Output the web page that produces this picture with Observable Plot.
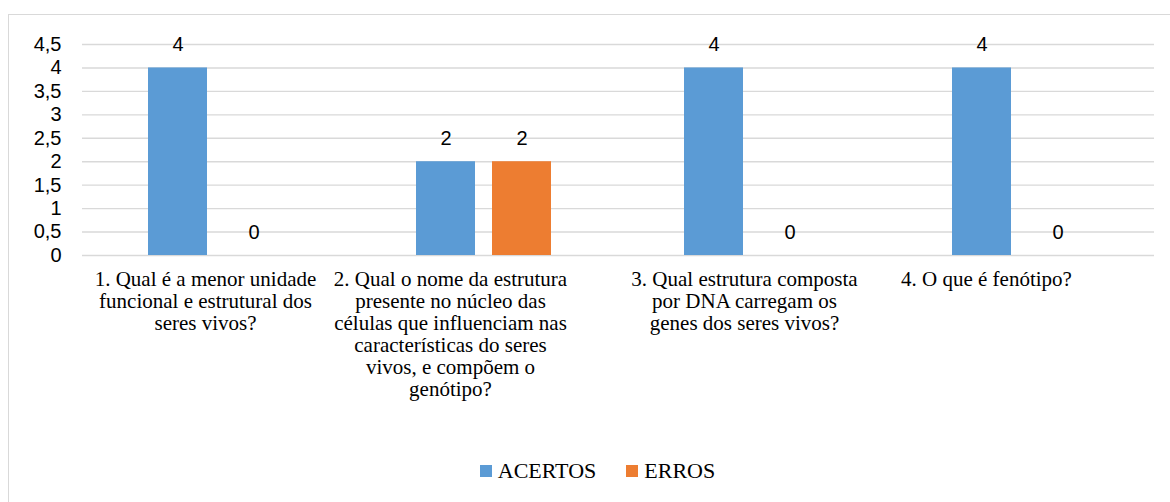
<!DOCTYPE html>
<html>
<head>
<meta charset="utf-8">
<script src="https://cdn.jsdelivr.net/npm/d3@7"></script>
<script src="https://cdn.jsdelivr.net/npm/@observablehq/plot@0.6"></script>
<style>
  html, body { margin: 0; padding: 0; background: #fff; overflow: hidden; width: 1170px; height: 502px; }
  #wrap { position: relative; width: 1170px; height: 502px; }
  #frame { position: absolute; left: 8px; top: 14px; width: 1200px; height: 600px; border: 1.5px solid #d9d9d9; box-sizing: border-box; pointer-events: none; }
  #chart { position: absolute; left: 0; top: 0; }
  #legend { position: absolute; left: 25px; width: 1145px; top: 458px; display: flex; justify-content: center; align-items: center; font-family: "Liberation Serif", "Times New Roman", serif; font-size: 22px; color: #000; }
  .item { display: flex; align-items: center; margin: 0 15px; }
  .sw { width: 12px; height: 12px; margin-right: 6px; }
  .qlabel text { font-family: "Liberation Serif", "Times New Roman", serif !important; }
</style>
</head>
<body>
<div id="wrap">
  <div id="frame"></div>
  <div id="chart"></div>
  <div id="legend"></div>
</div>
<script>
// ---- data ----
const questions = [
  "1. Qual é a menor unidade funcional e estrutural dos seres vivos?",
  "2. Qual o nome da estrutura presente no núcleo das células que influenciam nas características do seres vivos, e compõem o genótipo?",
  "3. Qual estrutura composta por DNA carregam os genes dos seres vivos?",
  "4. O que é fenótipo?"
];
const questionLabels = [
  "1. Qual é a menor unidade\nfuncional e estrutural dos\nseres vivos?",
  "2. Qual o nome da estrutura\npresente no núcleo das\ncélulas que influenciam nas\ncaracterísticas do seres\nvivos, e compõem o\ngenótipo?",
  "3. Qual estrutura composta\npor DNA carregam os\ngenes dos seres vivos?",
  "4. O que é fenótipo?"
];
const series = ["ACERTOS", "ERROS"];
const acertos = [4, 2, 4, 4];
const erros = [0, 2, 0, 0];
const yTicks = [0, 0.5, 1, 1.5, 2, 2.5, 3, 3.5, 4, 4.5];
const colors = ["#5b9bd5", "#ed7d31"];

// ---- table ----
const table = [];
questions.forEach((q, i) => {
  table.push({question: q, series: series[0], value: acertos[i]});
  table.push({question: q, series: series[1], value: erros[i]});
});

const fmt = d => String(d).replace(".", ",");
const labelShift = [-11, -34, -8, -34];

const labelMarks = questions.map((q, i) =>
  Plot.text([q], {
    fx: d => d,
    text: () => questionLabels[i],
    frameAnchor: "bottom",
    lineAnchor: "top",
    dy: 15,
    dx: labelShift[i],
    className: "qlabel",
    fontFamily: "'Liberation Serif', 'Times New Roman', serif",
    fontSize: 21,
    lineHeight: 1.05,
    fill: "#000"
  })
);

const chart = Plot.plot({
  width: 1170,
  height: 440,
  marginLeft: 80,
  marginRight: 15,
  marginTop: 44,
  marginBottom: 185,
  style: {background: "transparent", overflow: "visible"},
  fx: {domain: questions, padding: 0, axis: null},
  x: {domain: series, paddingInner: 0.22, paddingOuter: 0.855, axis: null},
  y: {domain: [0, 4.5], axis: null},
  color: {domain: series, range: colors},
  marks: [
    Plot.gridY(yTicks, {stroke: "#d9d9d9", strokeOpacity: 1, strokeWidth: 1.4}),
    Plot.barY(table, {fx: "question", x: "series", y: "value", fill: "series"}),
    Plot.text(table, {
      fx: "question", x: "series", y: "value",
      text: d => fmt(d.value),
      dy: -23,
      fontFamily: "'Liberation Sans', Arial, sans-serif",
      fontSize: 20,
      fill: "#000"
    }),
    Plot.axisY({
      ticks: yTicks,
      tickFormat: fmt,
      tickSize: 0,
      tickPadding: 21,
      fontFamily: "'Liberation Sans', Arial, sans-serif",
      fontSize: 20,
      fill: "#000",
      facetAnchor: "left",
      label: null
    }),
    ...labelMarks
  ]
});
document.getElementById("chart").appendChild(chart);

// ---- legend ----
const legend = document.getElementById("legend");
series.forEach((s, i) => {
  const item = document.createElement("div");
  item.className = "item";
  const sw = document.createElement("span");
  sw.className = "sw";
  sw.style.background = colors[i];
  const t = document.createElement("span");
  t.textContent = s;
  item.appendChild(sw);
  item.appendChild(t);
  legend.appendChild(item);
});
</script>
</body>
</html>
